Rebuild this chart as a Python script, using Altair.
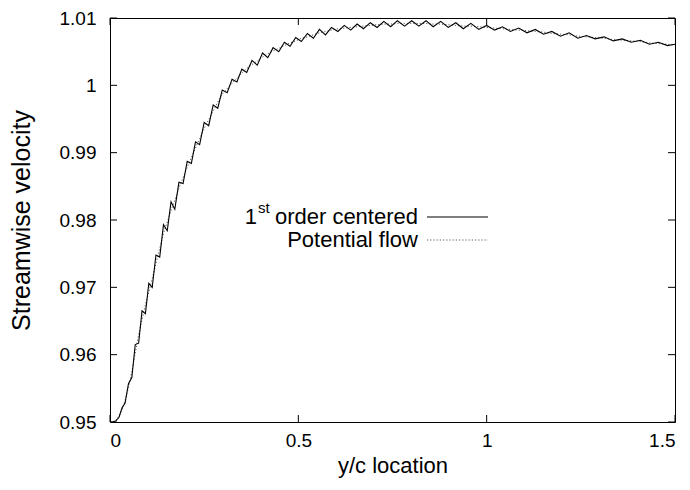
import altair as alt
import pandas as pd

# ---- data ----
x_nodes = [0.000, 0.008, 0.016, 0.024, 0.032, 0.040, 0.049, 0.058, 0.067, 0.076,
           0.085, 0.094, 0.103, 0.112, 0.122, 0.132, 0.142, 0.152, 0.162, 0.172,
           0.183, 0.194, 0.205, 0.216, 0.227, 0.238, 0.250, 0.262, 0.274, 0.286,
           0.298, 0.311, 0.324, 0.337, 0.350, 0.363, 0.377, 0.391, 0.405, 0.419,
           0.433, 0.448, 0.463, 0.478, 0.493, 0.508, 0.524, 0.540, 0.556, 0.572,
           0.588, 0.605, 0.622, 0.639, 0.656, 0.673, 0.691, 0.709, 0.727, 0.745,
           0.763, 0.782, 0.801, 0.820, 0.839, 0.858, 0.878, 0.898, 0.918, 0.938,
           0.958, 0.979, 1.000, 1.021, 1.042, 1.063, 1.085, 1.107, 1.129, 1.151,
           1.173, 1.196, 1.219, 1.242, 1.265, 1.288, 1.312, 1.336, 1.360, 1.384,
           1.408, 1.432, 1.456, 1.480, 1.500]

first_order = [0.9500, 0.9500, 0.9502, 0.9507, 0.9521, 0.9528, 0.9557, 0.9566, 0.9615, 0.9617,
               0.9665, 0.9661, 0.9706, 0.9700, 0.9748, 0.9745, 0.9793, 0.9784, 0.9827, 0.9816,
               0.9856, 0.9854, 0.9887, 0.9884, 0.9916, 0.9912, 0.9945, 0.9940, 0.9971, 0.9966,
               0.9993, 0.9989, 1.0009, 1.0005, 1.0024, 1.0019, 1.0037, 1.0030, 1.0048, 1.0041,
               1.0056, 1.0050, 1.0064, 1.0058, 1.0071, 1.0065, 1.0077, 1.0070, 1.0083, 1.0075,
               1.0086, 1.0080, 1.0089, 1.0082, 1.0091, 1.0084, 1.0093, 1.0086, 1.0095, 1.0087,
               1.0096, 1.0088, 1.0096, 1.0088, 1.0096, 1.0087, 1.0095, 1.0086, 1.0093, 1.0084,
               1.0092, 1.0083, 1.0089, 1.0082, 1.0087, 1.0080, 1.0085, 1.0078, 1.0083, 1.0076,
               1.0080, 1.0073, 1.0078, 1.0070, 1.0074, 1.0069, 1.0072, 1.0066, 1.0069, 1.0064,
               1.0067, 1.0061, 1.0064, 1.0059, 1.0061]

potential = [0.9500, 0.9500, 0.9502, 0.9509, 0.9518, 0.9532, 0.9551, 0.9575, 0.9602, 0.9630,
             0.9652, 0.9674, 0.9693, 0.9713, 0.9735, 0.9758, 0.9780, 0.9797, 0.9814, 0.9829,
             0.9847, 0.9863, 0.9878, 0.9893, 0.9907, 0.9921, 0.9936, 0.9949, 0.9962, 0.9975,
             0.9987, 0.9995, 1.0003, 1.0011, 1.0018, 1.0025, 1.0031, 1.0036, 1.0042, 1.0047,
             1.0051, 1.0055, 1.0059, 1.0063, 1.0066, 1.0070, 1.0072, 1.0075, 1.0078, 1.0080,
             1.0082, 1.0084, 1.0085, 1.0086, 1.0087, 1.0088, 1.0089, 1.0090, 1.0091, 1.0091,
             1.0092, 1.0092, 1.0092, 1.0092, 1.0092, 1.0091, 1.0091, 1.0090, 1.0089, 1.0088,
             1.0088, 1.0087, 1.0086, 1.0085, 1.0084, 1.0083, 1.0082, 1.0081, 1.0080, 1.0079,
             1.0077, 1.0076, 1.0075, 1.0073, 1.0072, 1.0071, 1.0070, 1.0068, 1.0067, 1.0066,
             1.0065, 1.0063, 1.0062, 1.0061, 1.0060]

x_ticks = [0, 0.5, 1, 1.5]
y_ticks = [0.95, 0.96, 0.97, 0.98, 0.99, 1.0, 1.01]

FONT = "Liberation Sans"
FS = 19
W, H = 565, 404
TICK = 7

df = pd.DataFrame({
    "x": x_nodes * 2,
    "v": first_order + potential,
    "s": ["first"] * len(x_nodes) + ["pot"] * len(x_nodes),
})

xscale = alt.Scale(domain=[0, 1.5], nice=False, zero=False)
yscale = alt.Scale(domain=[0.95, 1.01], nice=False, zero=False)

xaxis = alt.Axis(title="y/c location", values=x_ticks, format="~g", ticks=False,
                 domain=False, grid=False, labelPadding=9,
                 titleX=W / 2, titleY=43, titleBaseline="middle", titleFontSize=22)
yaxis = alt.Axis(title="Streamwise velocity", values=y_ticks, format="~g", ticks=False,
                 domain=False, grid=False, labelPadding=14,
                 titleX=-89, titleY=H / 2, titleBaseline="middle", titleAngle=-90,
                 titleFontSize=25)

X = alt.X("x:Q", scale=xscale, axis=xaxis)
Y = alt.Y("v:Q", scale=yscale, axis=yaxis)

pot_line = alt.Chart(df).transform_filter(alt.datum.s == "pot").mark_line(
    color="#555555", strokeWidth=1, strokeDash=[1.2, 2], clip=True
).encode(x=X, y=Y)

first_line = alt.Chart(df).transform_filter(alt.datum.s == "first").mark_line(
    color="black", strokeWidth=1.1, clip=True
).encode(x=X, y=Y)

xt = pd.DataFrame({"x": x_ticks})
yt = pd.DataFrame({"v": y_ticks})

xt_bottom = alt.Chart(xt).mark_rule(color="black", strokeWidth=1).encode(
    x=X, y=alt.value(H), y2=alt.value(H - TICK))
xt_top = alt.Chart(xt).mark_rule(color="black", strokeWidth=1).encode(
    x=X, y=alt.value(0), y2=alt.value(TICK))
yt_left = alt.Chart(yt).mark_rule(color="black", strokeWidth=1).encode(
    y=Y, x=alt.value(0), x2=alt.value(TICK))
yt_right = alt.Chart(yt).mark_rule(color="black", strokeWidth=1).encode(
    y=Y, x=alt.value(W), x2=alt.value(W - TICK))

one = pd.DataFrame({"a": [0]})
LX = 308   # right edge of legend text (plot coords)
LFS = 22
R1, R2 = 199, 222
txt_main = alt.Chart(one).mark_text(align="right", baseline="middle", font=FONT,
                                    fontSize=LFS, color="black").encode(
    x=alt.value(LX), y=alt.value(R1), text=alt.value("order centered"))
txt_sup = alt.Chart(one).mark_text(align="left", baseline="middle", font=FONT,
                                   fontSize=15, color="black").encode(
    x=alt.value(148), y=alt.value(R1 - 9), text=alt.value("st"))
txt_one = alt.Chart(one).mark_text(align="right", baseline="middle", font=FONT,
                                   fontSize=LFS, color="black").encode(
    x=alt.value(147), y=alt.value(R1), text=alt.value("1"))
txt_pot = alt.Chart(one).mark_text(align="right", baseline="middle", font=FONT,
                                   fontSize=LFS, color="black").encode(
    x=alt.value(LX), y=alt.value(R2), text=alt.value("Potential flow"))
leg_solid = alt.Chart(one).mark_rule(color="black", strokeWidth=1.1).encode(
    x=alt.value(317), x2=alt.value(378), y=alt.value(R1))
leg_dot = alt.Chart(one).mark_rule(color="#555555", strokeWidth=1, strokeDash=[1.2, 2]).encode(
    x=alt.value(317), x2=alt.value(378), y=alt.value(R2))

chart = alt.layer(
    pot_line, first_line, xt_bottom, xt_top, yt_left, yt_right,
    txt_main, txt_sup, txt_one, txt_pot, leg_solid, leg_dot
).properties(
    width=W, height=H,
    padding={"left": 110, "top": 18, "right": 15, "bottom": 68},
    autosize=alt.AutoSizeParams(type="none"),
    background="white",
).configure_view(
    stroke="black", strokeWidth=1
).configure_axis(
    labelFont=FONT, labelFontSize=FS, labelColor="black",
    titleFont=FONT, titleColor="black", titleFontWeight="normal",
)

chart.save("out.html", embed_options={"renderer": "svg", "actions": False})
